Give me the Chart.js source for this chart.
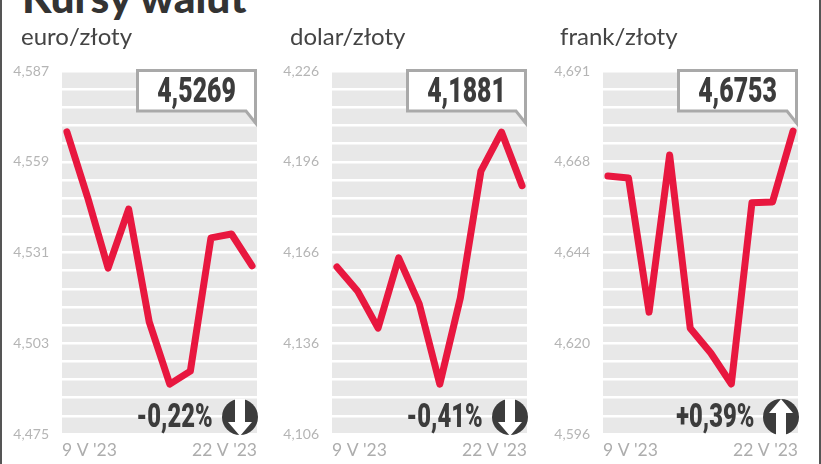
<!DOCTYPE html>
<html lang="pl">
<head>
<meta charset="utf-8">
<title>Kursy walut</title>
<script src="https://cdn.jsdelivr.net/npm/chart.js@4"></script>
<style>
    html, body { margin: 0; padding: 0; background: #fff; }
    body { width: 821px; height: 464px; position: relative; overflow: hidden; font-family: Lato, sans-serif; }
    #frame { position: absolute; left: 0; top: -4px; height: 480px; border-left: 2px solid #555; border-right: 2px solid #555; box-sizing: border-box; width: 821px; }
    h1 { position: absolute; left: 22px; top: -27px; margin: 0; font: 900 42.5px/48px Lato, sans-serif; color: #333; white-space: nowrap; }
    .name { position: absolute; top: 21px; font: 400 24px/30px Lato, sans-serif; color: #444; white-space: nowrap; }
    .panel { position: absolute; top: 0; width: 270px; height: 464px; }
    .panel canvas { position: absolute; left: 0; top: 0; }
    .panel svg { position: absolute; left: 0; top: 0; }
    .last { position: absolute; width: 119px; top: 71px; text-align: center; font: 900 35px/40px Roboto, sans-serif; color: #3c3c3c; transform: scaleX(0.71); }
    .pct { position: absolute; top: 398px; text-align: right; white-space: nowrap; font: 900 33px/36px Roboto, sans-serif; color: #3c3c3c; transform: scaleX(0.72); transform-origin: right center; }
</style>
</head>
<body>
<div id="frame"></div>
<h1>Kursy walut</h1>

<script>
// dane
var dni = ["9 V '23", "10 V '23", "11 V '23", "12 V '23", "15 V '23", "16 V '23", "17 V '23", "18 V '23", "19 V '23", "22 V '23"];

var nazwy = ['euro/złoty', 'dolar/złoty', 'frank/złoty'];
var ostatnie = ['4,5269', '4,1881', '4,6753'];
var zmiany = ['-0,22%', '-0,41%', '+0,39%'];

var euro = [4.5682, 4.5481, 4.5262, 4.5444, 4.5096, 4.4904, 4.4944, 4.5355, 4.5367, 4.5269];
var dolar = [4.1612, 4.1533, 4.1410, 4.1642, 4.1490, 4.1225, 4.1510, 4.1929, 4.2058, 4.1881];
var frank = [4.6635, 4.6630, 4.6279, 4.6690, 4.6237, 4.6172, 4.6091, 4.6565, 4.6567, 4.6753];

var tickiEuro = [4.587, 4.559, 4.531, 4.503, 4.475];
var tickiDolar = [4.226, 4.196, 4.166, 4.136, 4.106];
var tickiFrank = [4.691, 4.668, 4.644, 4.620, 4.596];

var serie = [euro, dolar, frank];
var ticki = [tickiEuro, tickiDolar, tickiFrank];
var lewe = [0, 270, 541];   // pozycja kazdego panelu
var leweNazwy = [21, 20, 19];

// szare tlo pod siatka
var tloPlugin = {
    id: 'tlo',
    beforeDraw: function (chart) {
        var a = chart.chartArea;
        chart.ctx.save();
        chart.ctx.fillStyle = '#e8e8e8';
        chart.ctx.fillRect(a.left, a.top, a.right - a.left, a.bottom - a.top);
        chart.ctx.restore();
    }
};

function rysujPanel(n) {
    var panel = document.createElement('div');
    panel.className = 'panel';
    panel.style.left = lewe[n] + 'px';
    document.body.appendChild(panel);

    var canvas = document.createElement('canvas');
    canvas.style.width = '270px';
    canvas.style.height = '464px';
    panel.appendChild(canvas);

    var nazwa = document.createElement('div');
    nazwa.className = 'name';
    nazwa.style.left = leweNazwy[n] + 'px';
    nazwa.textContent = nazwy[n];
    panel.appendChild(nazwa);

    var punkty = [];
    for (var i = 0; i < serie[n].length; i++) {
        punkty.push({ x: i, y: serie[n][i] });
    }

    var t = ticki[n];
    new Chart(canvas.getContext('2d'), {
        type: 'line',
        plugins: [tloPlugin],
        data: {
            datasets: [{
                data: punkty,
                borderColor: '#e8173f',
                borderWidth: 7,
                borderCapStyle: 'round',
                borderJoinStyle: 'round',
                pointRadius: 0,
                tension: 0,
                clip: false
            }]
        },
        options: {
            responsive: false,
            animation: false,
            devicePixelRatio: 1,
            layout: { padding: { top: 71, right: 13, left: 0, bottom: 0 } },
            plugins: { legend: { display: false }, tooltip: { enabled: false } },
            scales: {
                x: {
                    type: 'linear',
                    min: -0.24,
                    max: dni.length - 1 + 0.24,
                    afterBuildTicks: function (axis) {
                        axis.ticks = [{ value: axis.min }, { value: axis.max }];
                    },
                    afterFit: function (axis) { axis.height = 30; },
                    grid: { display: false },
                    border: { display: false },
                    ticks: {
                        autoSkip: false,
                        maxRotation: 0,
                        align: 'inner',
                        padding: -2,
                        color: '#adadad',
                        font: { family: 'Lato', size: 17.5 },
                        callback: function (v, idx) {
                            return idx === 0 ? dni[0] : dni[dni.length - 1];
                        }
                    }
                },
                y: {
                    min: t[t.length - 1],
                    max: t[0],
                    afterBuildTicks: function (axis) {
                        var lista = [];
                        for (var k = 0; k <= 20; k++) {   // 5 pasow na kazdy opis
                            lista.push({ value: axis.min + (axis.max - axis.min) * k / 20 });
                        }
                        axis.ticks = lista;
                    },
                    afterFit: function (axis) { axis.width = 62; },
                    grid: { color: '#fff', lineWidth: 2.5, drawTicks: false },
                    border: { display: false },
                    ticks: {
                        autoSkip: false,
                        padding: 13,
                        color: '#b5b5b5',
                        font: { family: 'Lato', size: 14 },
                        callback: function (v, idx) {
                            if (idx % 5 !== 0) return '';
                            return t[t.length - 1 - idx / 5].toFixed(3).replace('.', ',');
                        }
                    }
                }
            }
        }
    });

    // dymek z ostatnim kursem i strzalka
    var wGore = zmiany[n].charAt(0) === '+';
    var strzalka = wGore
        ? '<polygon fill="#fff" points="240,399 252,413 245,413 245,435 235,435 235,413 228,413"/>'
        : '<polygon fill="#fff" points="240,436 252,422 245,422 245,399 235,399 235,422 228,422"/>';
    var svgNs = '<svg xmlns="http://www.w3.org/2000/svg" width="270" height="464">' +
        '<polygon fill="#fff" stroke="#a9a9a9" stroke-width="3" points="137.5,70.5 255.5,70.5 255.5,123 246,111 137.5,111"/>' +
        '<circle cx="240" cy="417" r="18" fill="#3c3c3c"/>' + strzalka + '</svg>';
    var warstwa = document.createElement('div');
    warstwa.innerHTML = svgNs;
    panel.appendChild(warstwa);

    var kurs = document.createElement('div');
    kurs.className = 'last';
    kurs.style.left = '137px';
    kurs.textContent = ostatnie[n];
    panel.appendChild(kurs);

    var pct = document.createElement('div');
    pct.className = 'pct';
    pct.style.right = (270 - 213) + 'px';
    pct.textContent = zmiany[n];
    panel.appendChild(pct);
}

for (var n = 0; n < 3; n++) {
    rysujPanel(n);
}
</script>
</body>
</html>
